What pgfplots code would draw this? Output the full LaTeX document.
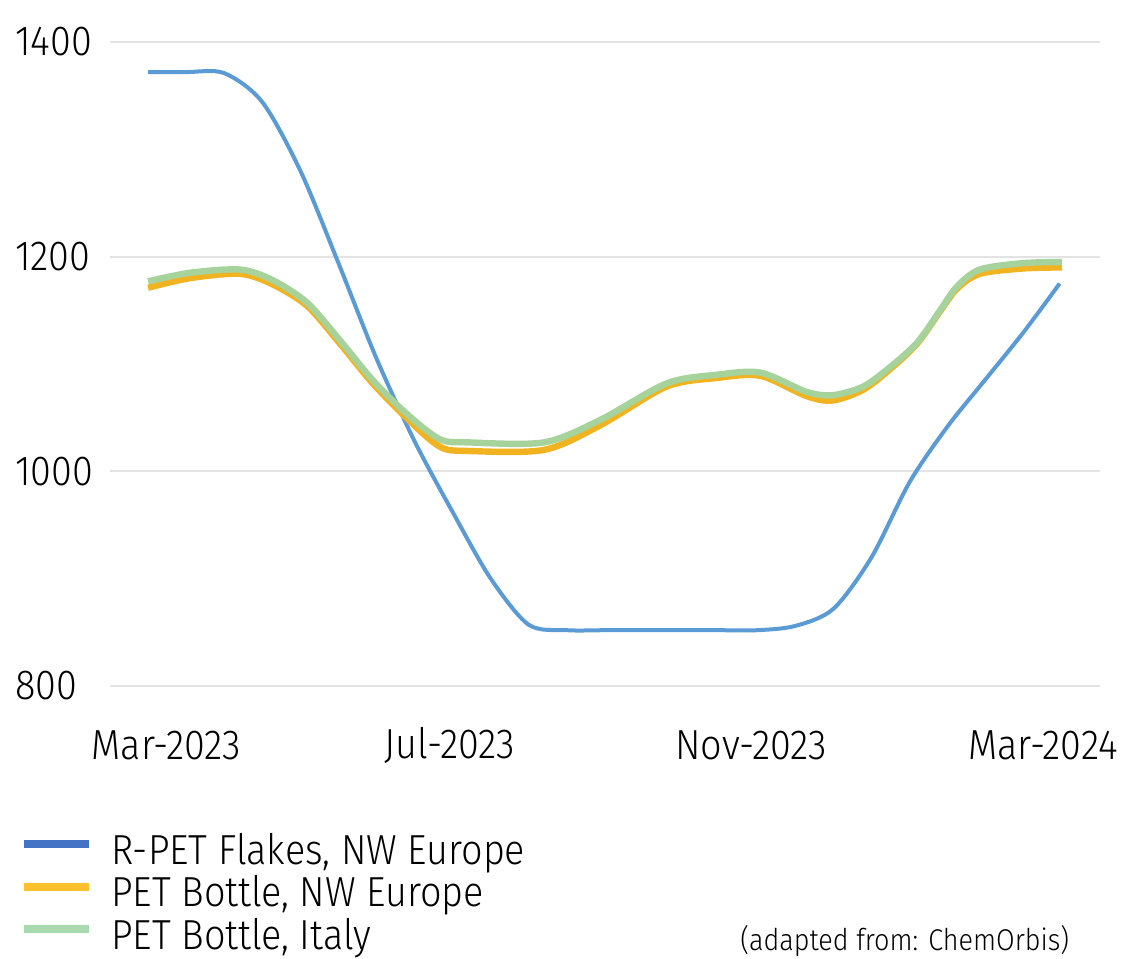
\documentclass[border=0pt]{standalone}
\usepackage{fontspec}
\setmainfont{Fira Sans}[FakeStretch=0.9, UprightFont=* Light]
\usepackage{pgfplots}
\pgfplotsset{compat=1.18}
\definecolor{lblue}{HTML}{5B9BD5}
\definecolor{legblue}{HTML}{4472C4}
\definecolor{lorange}{HTML}{F2B320}
\definecolor{legorange}{HTML}{FFC02E}
\definecolor{lgreen}{HTML}{A6D39C}
\definecolor{leggreen}{HTML}{A9D9AE}
\definecolor{gridgray}{HTML}{E3E3E3}
\begin{document}
\begin{tikzpicture}
\path[use as bounding box] (0,0) rectangle (564pt,-479pt);
\begin{axis}[
  at={(55pt,-343pt)}, anchor=south west,
  width=495pt, height=322pt, scale only axis,
  xmin=-0.5, xmax=12.5, ymin=800, ymax=1400,
  axis line style={draw=none},
  ytick={800,1000,1200,1400},
  ymajorgrids, grid style={color=gridgray, line width=1pt},
  major tick style={draw=none},
  xtick={0.24,3.96,7.92,11.75},
  xticklabels={Mar-2023,Jul-2023,Nov-2023,Mar-2024},
  /pgf/number format/assume math mode=true,
  /pgf/number format/1000 sep={},
  ticklabel style={font=\fontsize{21}{25}\selectfont},
  yticklabel style={anchor=west, xshift=-51pt},
  xticklabel style={anchor=center, yshift=-29.5pt},
  clip=false,
  legend style={at={(-0.0909,-0.2330)}, anchor=north west, draw=none, fill=none,
    font=\fontsize{21}{25}\selectfont, inner sep=0pt, row sep=3.2pt, column sep=9pt,
    nodes={inner sep=0pt, text height=14pt, text depth=4pt}},
  legend cell align=left,
  legend image code/.code={\draw[#1] (0pt,5pt) -- (32.5pt,5pt);},
]
\addplot[lblue, line width=2pt, smooth, tension=0.5, forget plot] coordinates {
(0,1372) (0.5,1372) (1.0,1371) (1.5,1344) (2.0,1280) (2.5,1194) (3.0,1105) (3.5,1028) (4.0,962) (4.5,900) (5.0,857) (5.5,852) (6.0,852) (6.5,852) (7.0,852) (7.5,852) (8.0,852) (8.5,856) (9.0,872) (9.5,920) (10.0,990) (10.5,1042) (11.0,1086) (11.5,1130) (11.97,1175)};
\addplot[lorange, line width=3.2pt, smooth, tension=0.5, forget plot] coordinates {
(0,1171) (0.55,1180) (1.21,1184) (1.64,1174) (2.09,1154) (2.52,1119) (2.95,1082) (3.39,1050) (3.83,1023) (4.2,1019) (5.2,1020) (5.94,1043) (6.81,1079) (7.47,1087) (8.04,1089) (8.65,1070) (8.99,1066) (9.39,1076) (9.74,1095) (10.1,1119) (10.4,1149) (10.62,1170) (10.92,1184) (11.49,1189) (12,1190)};
\addplot[lgreen, line width=3.2pt, smooth, tension=0.5, forget plot] coordinates {
(0,1177) (0.55,1185) (1.21,1188) (1.64,1178) (2.09,1157) (2.52,1122) (2.95,1085) (3.39,1054) (3.83,1030) (4.2,1027) (5.2,1027) (5.94,1048) (6.81,1082) (7.47,1090) (8.04,1092) (8.65,1074) (8.99,1071) (9.39,1079) (9.74,1097) (10.1,1120) (10.4,1150) (10.62,1172) (10.92,1188) (11.49,1194) (12,1195)};
\addlegendimage{legblue, line width=4pt}
\addlegendimage{legorange, line width=4pt}
\addlegendimage{leggreen, line width=4pt}
\legend{{R-PET Flakes, NW Europe}, {PET Bottle, NW Europe}, {PET Bottle, Italy}}
\end{axis}
\node[anchor=south west, font=\fontsize{15}{18}\selectfont, inner sep=0pt] at (370pt,-478.5pt) {(adapted from: ChemOrbis)};
\end{tikzpicture}
\end{document}
